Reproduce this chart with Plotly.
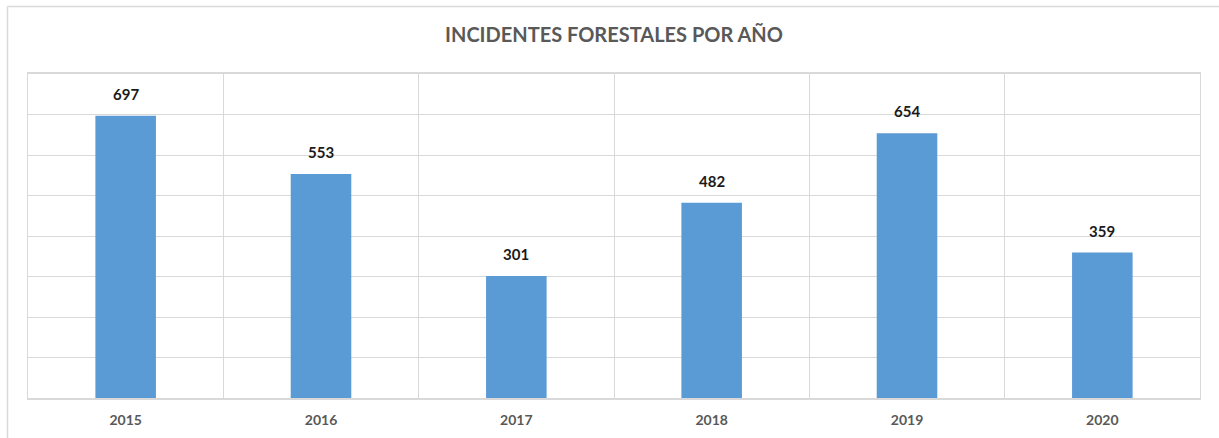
import plotly.graph_objects as go

years = ["2015", "2016", "2017", "2018", "2019", "2020"]
incidentes = [697, 553, 301, 482, 654, 359]
title_text = "INCIDENTES FORESTALES POR AÑO"

W, H = 1219, 438
L, R, T, B = 28, 19, 74, 40
pw, ph = W - L - R, H - T - B

pos = list(range(len(years)))
bounds = [p - 0.5 for p in pos] + [pos[-1] + 0.5]

fig = go.Figure(go.Bar(x=pos, y=incidentes, marker_color="#5b9bd5",
                       marker_line_width=0, width=0.31, hoverinfo="skip"))

for p, v in zip(pos, incidentes):
    fig.add_annotation(x=p, y=v, text=f"<b>{v}</b>", showarrow=False,
                       yanchor="bottom", yshift=11,
                       font=dict(family="Lato", size=15, color="#1a1a1a"))

def px_x(p):
    return (p - L) / pw

def px_y(p):
    return (H - B - p) / ph

fig.add_shape(type="line", xref="paper", yref="paper", x0=px_x(7.5), x1=px_x(1225),
              y0=px_y(6.5), y1=px_y(6.5), line=dict(color="#d9d9d9", width=1.5))
fig.add_shape(type="line", xref="paper", yref="paper", x0=px_x(7.5), x1=px_x(7.5),
              y0=px_y(6.5), y1=px_y(445), line=dict(color="#d9d9d9", width=1.5))

fig.update_layout(
    width=W, height=H, margin=dict(l=L, r=R, t=T, b=B, autoexpand=False),
    paper_bgcolor="white", plot_bgcolor="white", showlegend=False,
    title=dict(text=f"<b>{title_text}</b>", x=614 / W, xanchor="center",
               y=1 - 35 / H, yanchor="middle",
               font=dict(family="Lato", size=20, color="#595959")),
    xaxis=dict(range=[-0.5, len(years) - 0.5], showgrid=False, zeroline=False,
               showline=True, mirror=True, linecolor="#d9d9d9", linewidth=1.5,
               ticks="outside", ticklen=8, tickcolor="rgba(0,0,0,0)",
               tickfont=dict(family="Lato", size=14, color="#595959"),
               tickmode="array", tickvals=pos,
               ticktext=[f"<b>{y}</b>" for y in years],
               minor=dict(tickmode="array", tickvals=bounds, showgrid=True,
                          gridcolor="#d9d9d9", gridwidth=1, ticks=""),
               automargin=False, fixedrange=True),
    yaxis=dict(range=[0, 800], dtick=100, showgrid=True, gridcolor="#d9d9d9",
               gridwidth=1, showticklabels=False, zeroline=False, showline=True,
               mirror=True, linecolor="#d9d9d9", linewidth=1, ticks="",
               automargin=False, fixedrange=True),
)

fig.write_html("out.html", config={"displayModeBar": False},
               post_script="document.body.style.margin='0';")
